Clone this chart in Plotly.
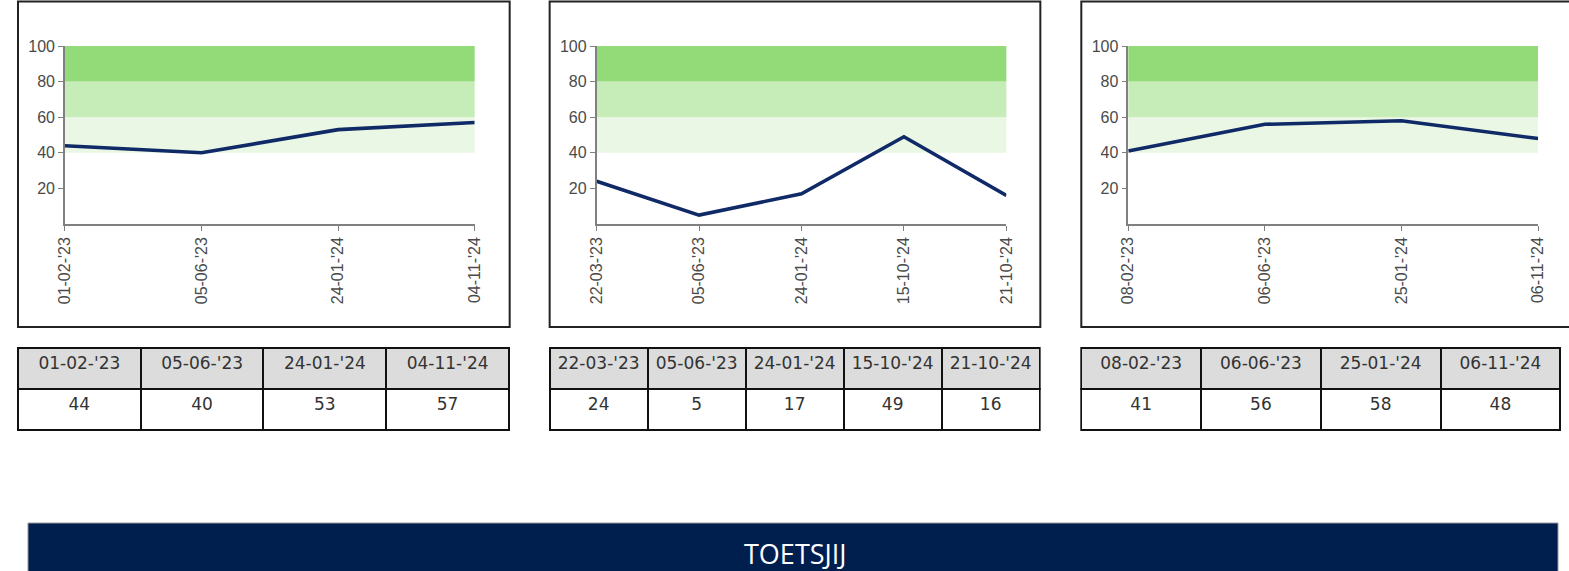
import plotly.graph_objects as go

W, H = 1569, 571

# ---- data ----
dates_1 = ["01-02-'23", "05-06-'23", "24-01-'24", "04-11-'24"]
scores_1 = [44, 40, 53, 57]
dates_2 = ["22-03-'23", "05-06-'23", "24-01-'24", "15-10-'24", "21-10-'24"]
scores_2 = [24, 5, 17, 49, 16]
dates_3 = ["08-02-'23", "06-06-'23", "25-01-'24", "06-11-'24"]
scores_3 = [41, 56, 58, 48]
y_ticks = [20, 40, 60, 80, 100]
bands = [(40, 60, "#eaf7e4"), (60, 80, "#c6ecb8"), (80, 100, "#93da78")]
banner_text = "TOETSJIJ"

panels = [(dates_1, scores_1), (dates_2, scores_2), (dates_3, scores_3)]

# ---- layout geometry (target pixels in the screenshot) ----
box_x = [(17, 509), (549, 1040), (1081, 1573)]
plot_x = [(64, 474), (596, 1006), (1128, 1538)]
plot_y = (46, 224)
table_y = (348, 438)
table_x = [(17, 509), (549, 1040), (1081, 1568)]

# the page is drawn inside an 8px inset (effective canvas ~1553 x 563)
OX, OY, EW, EH = 8, 8, 1553, 563

def px(x):
    return (x - OX) / EW

def py(y):
    return 1 - (y - OY) / EH

def clamp(v):
    return max(0.0, min(1.0, v))

fig = go.Figure()
shapes = []
annotations = []

for i, (dates, scores) in enumerate(panels):
    n = i + 1
    xa = "x" if n == 1 else f"x{n}"
    ya = "y" if n == 1 else f"y{n}"
    fig.add_trace(go.Scatter(
        x=dates, y=scores, mode="lines",
        line=dict(color="#0f2a66", width=3.6),
        xaxis=xa, yaxis=ya, showlegend=False, hoverinfo="x+y"))
    axis_common = dict(showgrid=False, zeroline=False, showline=True,
                       linecolor="#808080", linewidth=1.5,
                       ticks="outside", ticklen=5, tickcolor="#808080",
                       tickfont=dict(family="Liberation Sans, Arial", size=16, color="#4a4a4a"))
    fig.update_layout({
        ("xaxis" if n == 1 else f"xaxis{n}"): dict(
            domain=[clamp(px(plot_x[i][0])), clamp(px(plot_x[i][1]))],
            anchor=ya, type="category", range=[0, len(dates) - 1],
            tickangle=-90, **axis_common),
        ("yaxis" if n == 1 else f"yaxis{n}"): dict(
            domain=[clamp(py(plot_y[1])), clamp(py(plot_y[0]))],
            anchor=xa, range=[0, 100], tickvals=y_ticks, **axis_common),
    })
    for lo, hi, col in bands:
        shapes.append(dict(type="rect", xref=f"{xa} domain", yref=ya,
                           x0=0, x1=1, y0=lo, y1=hi, fillcolor=col,
                           line=dict(width=0), layer="below"))
    # panel box
    shapes.append(dict(type="rect", xref="paper", yref="paper",
                       x0=px(box_x[i][0]), x1=px(box_x[i][1]),
                       y0=py(327), y1=py(1.5),
                       line=dict(color="#222222", width=2), fillcolor="rgba(0,0,0,0)"))
    # table
    fig.add_trace(go.Table(
        domain=dict(x=[clamp(px(table_x[i][0])), clamp(px(table_x[i][1]))],
                    y=[clamp(py(table_y[1])), clamp(py(table_y[0]))]),
        header=dict(values=dates, fill_color="#dcdcdc", height=41,
                    line=dict(color="#111111", width=2), align="center",
                    font=dict(family="DejaVu Sans", size=17, color="#333333")),
        cells=dict(values=[[s] for s in scores], fill_color="white", height=41,
                   line=dict(color="#111111", width=2), align="center",
                   font=dict(family="DejaVu Sans", size=17, color="#333333")),
    ))

# banner
shapes.append(dict(type="rect", xref="paper", yref="paper",
                   x0=px(27), x1=px(1558), y0=py(580), y1=py(523),
                   fillcolor="#001f4f", line=dict(color="#9a9a9a", width=1)))
annotations.append(dict(text=banner_text, xref="paper", yref="paper",
                        x=px(795), y=py(553), xanchor="center", yanchor="middle",
                        showarrow=False,
                        font=dict(family="Open Sans", size=27, color="white")))

fig.update_layout(width=W, height=H, margin=dict(l=0, r=0, t=0, b=0),
                  paper_bgcolor="white", plot_bgcolor="white",
                  shapes=shapes, annotations=annotations, showlegend=False)

fig.write_html("out.html", config={"displayModeBar": False},
               post_script="document.body.style.margin='0';document.body.style.overflow='hidden';")
